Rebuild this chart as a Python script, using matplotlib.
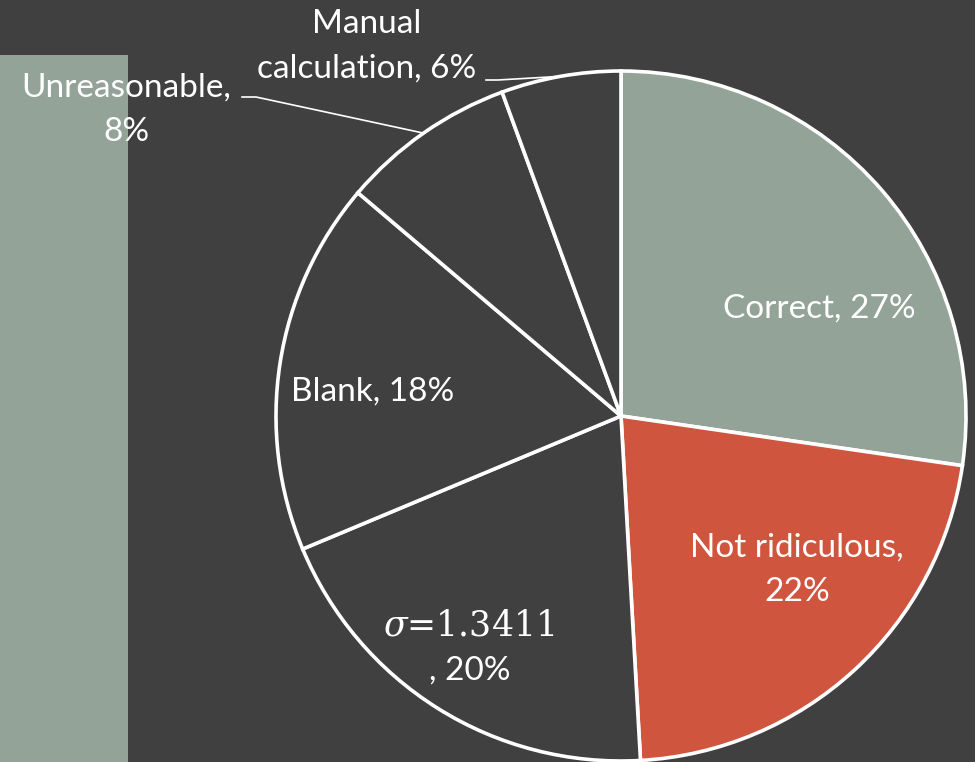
import numpy as np
import matplotlib.pyplot as plt
from matplotlib.patches import Rectangle

# =========================
# DATA
# =========================

categories = ["Correct", "Not ridiculous", "$\\sigma$=1.3411", "Blank",
              "Unreasonable", "Manual calculation"]
shares = [27.3, 21.8, 19.6, 17.5, 8.2, 5.6]
colors = ["#93a398", "#d0553f", "#404040", "#404040", "#404040", "#404040"]

BG = "#404040"
W, H = 975, 762

# =========================
# FIGURE
# =========================

fig = plt.figure(figsize=(W / 100, H / 100), dpi=100, facecolor=BG)
ax = fig.add_axes([0, 0, 1, 1])
ax.set_facecolor(BG)

cx, cy, r = 621, H - 416, 345

wedges, _ = ax.pie(
    shares,
    colors=colors,
    startangle=90,
    counterclock=False,
    center=(cx, cy),
    radius=r,
    wedgeprops=dict(edgecolor="white", linewidth=2.6),
)

ax.set_xlim(0, W)
ax.set_ylim(0, H)
ax.set_aspect("auto")
ax.axis("off")

# decorative panel on the left (behind everything)
ax.add_patch(Rectangle((0, 0), 128, H - 55, facecolor="#93a398",
                       edgecolor="none", zorder=0))

FONT = "Lato"
FS = 24
txt = dict(color="white", fontsize=FS, family=FONT, ha="center",
           va="center", linespacing=1.6, zorder=5)


def pct(v):
    return f"{int(round(v))}%"


# labels inside the pie
ax.text(819, H - 309, f"{categories[0]}, {pct(shares[0])}", **txt)
ax.text(797, H - 570, f"{categories[1]},\n{pct(shares[1])}", **txt)
ax.text(469, H - 625, categories[2], color="white", fontsize=25,
        family="DejaVu Serif", math_fontfamily="dejavuserif",
        ha="center", va="center", zorder=5)
ax.text(470, H - 671, f", {pct(shares[2])}", **txt)
ax.text(373, H - 392, f"{categories[3]}, {pct(shares[3])}", **txt)

# outside labels with leader lines
ax.text(126, H - 110, f"{categories[4]},\n{pct(shares[4])}", **txt)
ax.text(367, H - 46, "Manual\ncalculation, " + pct(shares[5]), **txt)


def arc_point(w):
    mid = np.deg2rad((w.theta1 + w.theta2) / 2)
    return cx + r * np.cos(mid), cy + r * np.sin(mid)


px, py = arc_point(wedges[4])
ax.plot([242, 256, px], [H - 97, H - 97, py], color="white", lw=1.2)
px, py = arc_point(wedges[5])
ax.plot([486, 498, px], [H - 80, H - 80, py], color="white", lw=1.2)

fig.savefig("out.png", dpi=100, facecolor=BG)
